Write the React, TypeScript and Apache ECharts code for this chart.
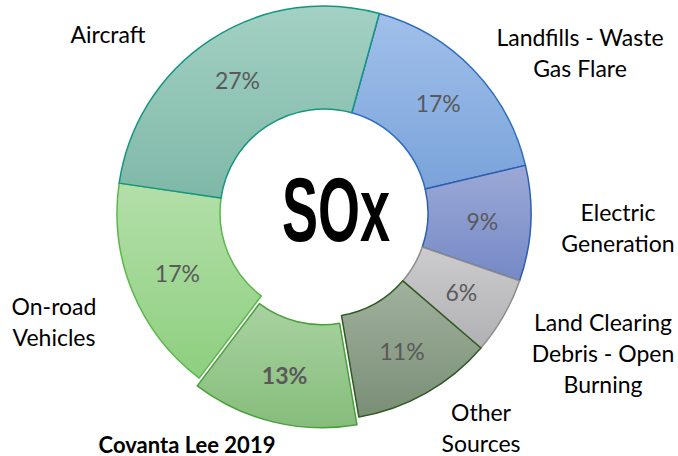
import React, { useEffect, useRef } from "react";
import * as echarts from "echarts";

const categories = [
  "Landfills - Waste\nGas Flare",
  "Electric\nGeneration",
  "Land Clearing\nDebris - Open\nBurning",
  "Other\nSources",
  "Covanta Lee 2019",
  "On-road\nVehicles",
  "Aircraft",
];
const shares = [17, 9, 6, 11, 13, 17, 27];
const exploded = [false, false, false, false, true, false, false];

const topColors = ["#a1c0ea", "#9ca9d7", "#cccccf", "#a0b19d", "#a9d2a1", "#b3dfa9", "#a3d1c3"];
const bottomColors = ["#7aa3da", "#7689c6", "#b1b1b4", "#7a8e76", "#86bd7b", "#8ecf7f", "#7fb8a8"];
const borderColors = ["#2e6fbd", "#2b5fb0", "#8c8c8c", "#2f5a22", "#48a03a", "#5bb74a", "#13957f"];

const namePositions = [
  [580, 52],
  [618, 227],
  [603, 353],
  [481, 427],
  [187, 444],
  [54, 321],
  [108, 34],
];

export default function App() {
  const ref = useRef<HTMLDivElement>(null);
  useEffect(() => {
    if (!ref.current) return;
    const chart = echarts.init(ref.current, undefined, { renderer: "svg" });
    const fontFamily = "Lato, 'Open Sans', sans-serif";
    const pieData = categories.map((name, i) => ({
      name,
      value: shares[i],
      selected: exploded[i],
      itemStyle: {
        color: {
          type: "linear",
          x: 0,
          y: 0,
          x2: 0,
          y2: 1,
          colorStops: [
            { offset: 0, color: topColors[i] },
            { offset: 1, color: bottomColors[i] },
          ],
        },
        borderColor: borderColors[i],
        borderWidth: 1.5,
      },
      label: exploded[i] ? { fontWeight: "bold" } : undefined,
    }));
    const nameData = categories.map((name, i) => ({
      name,
      value: shares[i],
      label: exploded[i] ? { fontWeight: "bold", fontSize: 22, lineHeight: 22 } : undefined,
    }));
    chart.setOption({
      animation: false,
      backgroundColor: "#ffffff",
      graphic: [
        {
          type: "text",
          x: 336,
          y: 210,
          scaleX: 0.6,
          style: {
            text: "SOx",
            font: "bold 90px 'Liberation Sans', Arial, sans-serif",
            fill: "#000000",
            align: "center",
            verticalAlign: "middle",
          },
          z: 10,
        },
      ],
      series: [
        {
          type: "pie",
          center: [324, 213],
          radius: [104, 207],
          startAngle: 74.5,
          clockwise: true,
          selectedMode: "single",
          selectedOffset: 8,
          avoidLabelOverlap: false,
          silent: true,
          label: {
            show: true,
            position: "inside",
            formatter: "{c}%",
            color: "#595959",
            fontSize: 23,
            fontFamily,
          },
          labelLine: { show: false },
          select: { itemStyle: {} },
          emphasis: { disabled: true },
          data: pieData,
        },
        {
          type: "pie",
          center: [324, 213],
          radius: [104, 207],
          startAngle: 74.5,
          clockwise: true,
          silent: true,
          avoidLabelOverlap: false,
          itemStyle: { color: "rgba(0,0,0,0)", borderWidth: 0 },
          label: {
            show: true,
            position: "outside",
            formatter: "{b}",
            color: "#000000",
            fontSize: 23,
            lineHeight: 31,
            align: "center",
            fontFamily,
          },
          labelLine: { show: false },
          labelLayout: (params: any) => {
            const p = namePositions[params.dataIndex];
            return { x: p[0], y: p[1], align: "center", verticalAlign: "middle" };
          },
          emphasis: { disabled: true },
          data: nameData,
        },
      ],
    });
    return () => chart.dispose();
  }, []);
  return (
    <div
      ref={ref}
      style={{ position: "fixed", left: 0, top: 0, width: 678, height: 456 }}
    />
  );
}
